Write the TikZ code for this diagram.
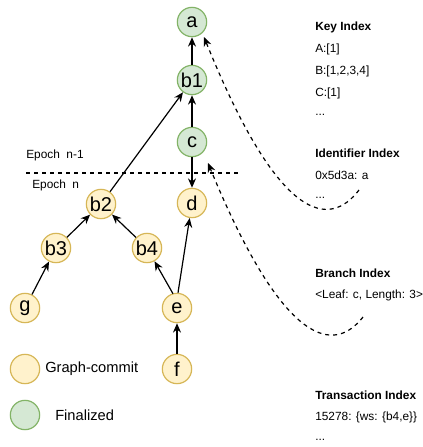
\documentclass[tikz,border=0pt]{standalone}
\usepackage{fontspec}
\setmainfont{Liberation Sans}
\usetikzlibrary{arrows.meta}
\definecolor{ycfill}{HTML}{FFF2CC}
\definecolor{ycdraw}{HTML}{D6B656}
\definecolor{gnfill}{HTML}{D5E8D4}
\definecolor{gndraw}{HTML}{82B366}
\begin{document}
\begin{tikzpicture}[x=0.75pt,y=-0.75pt,
  vtx/.style={circle,minimum size=22pt,inner sep=0pt,line width=0.9pt,font=\fontsize{15}{16}\selectfont},
  pend/.style={vtx,draw=ycdraw,fill=ycfill},
  fin/.style={vtx,draw=gndraw,fill=gnfill},
  edge/.style={-{Stealth[length=7pt,width=6pt]},line width=0.9pt},
  dedge/.style={-{Stealth[length=7pt,width=6pt]},line width=0.9pt,dash pattern=on 3pt off 3pt},
  idx/.style={anchor=west,inner sep=0pt,font=\fontsize{8.9}{10}\selectfont},
  idxh/.style={idx,font=\fontsize{8.9}{10}\selectfont\bfseries},
  lbl/.style={anchor=west,inner sep=0pt,font=\fontsize{11}{13}\selectfont}]
\useasboundingbox (0,0) rectangle (422,447);
% nodes
\node[fin] (a) at (192,22) {a};
\node[fin] (b1) at (192,80) {b1};
\node[fin] (c) at (192,142) {c};
\node[pend] (d) at (192,203) {d};
\node[pend] (b2) at (101,204) {b2};
\node[pend] (b3) at (56,248) {b3};
\node[pend] (b4) at (147,248) {b4};
\node[pend] (g) at (25,308) {g};
\node[pend] (e) at (177,308) {e};
\node[pend] (f) at (177,369) {f};
% legend
\node[pend] (lg1) at (25,369) {};
\node[lbl] (lt1) at (45,369) {Graph-commit};
\node[fin] (lg2) at (25,415) {};
\node[lbl] (lt2) at (55,415) {Finalized};
% epoch
\coordinate (ep1) at (26,173);
\coordinate (ep2) at (238,173);
\draw[line width=0.9pt,dash pattern=on 3pt off 3pt] (ep1) -- (ep2);
\node[idx] (en1) at (26,155) {Epoch\ \ n-1};
\node[idx] (en) at (32,185) {Epoch\ \ n};
% edges
\draw[edge] (b1) -- (a);
\draw[edge] (c) -- (b1);
\draw[edge] (c) -- (d);
\draw[edge] (b2) -- (b1);
\draw[edge] (b3) -- (b2);
\draw[edge] (b4) -- (b2);
\draw[edge] (g) -- (b3);
\draw[edge] (e.north) ++(-4,1) coordinate (e1) (e1) -- (b4);
\draw[edge] (e.north) ++(1,0) coordinate (e2) (e2) -- (d);
\draw[edge] (f) -- (e);
% index texts
\node[idxh] (ki) at (315,27) {Key Index};
\node[idx] (k1) at (315,49) {A:[1]};
\node[idx] (k2) at (315,71) {B:[1,2,3,4]};
\node[idx] (k3) at (315,93) {C:[1]};
\node[idx] (k4) at (315,115) {...};
\node[idxh] (ii) at (315,153) {Identifier Index};
\node[idx] (i1) at (315,175) {0x5d3a: a};
\node[idx] (i2) at (315,198) {...};
\node[idxh] (bi) at (315,273) {Branch Index};
\node[idx] (b1t) at (315,295) {<Leaf: c, Length: 3>};
\node[idxh] (ti) at (315,395) {Transaction Index};
\node[idx] (t1) at (315,417) {15278: \{ws: \{b4,e\}\}};
\node[idx] (t2) at (315,440) {...};
% dashed curves
\coordinate (s1) at (359,190);
\coordinate (s2) at (363,317);
\draw[dedge] (s1) .. controls (330,228) and (280,225) .. (204,37);
\draw[dedge] (s2) .. controls (335,353) and (285,350) .. (208,163);
\end{tikzpicture}
\end{document}
